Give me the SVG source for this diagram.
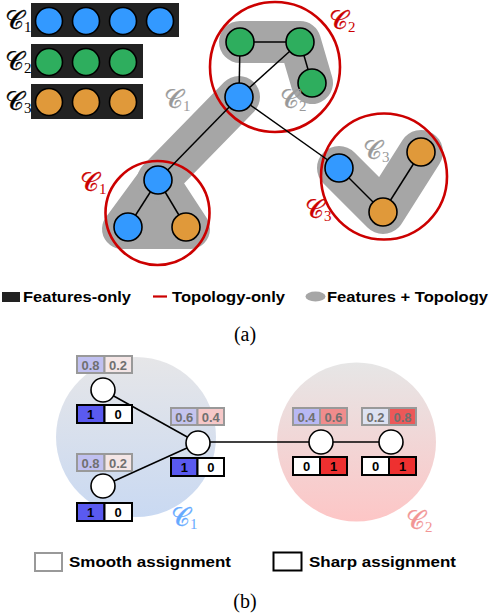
<svg xmlns="http://www.w3.org/2000/svg" width="490" height="614" viewBox="0 0 490 614">
<defs>
<linearGradient id="gBlue" x1="0" y1="0" x2="0" y2="1"><stop offset="0" stop-color="#e6e6e8"/><stop offset="1" stop-color="#c9d9f2"/></linearGradient>
<linearGradient id="gRed" x1="0" y1="0" x2="0" y2="1"><stop offset="0" stop-color="#e6e6e6"/><stop offset="1" stop-color="#fdc6c6"/></linearGradient>
<style>
.fb{fill:#222}
.nb{fill:#3399ff;stroke:#000;stroke-width:1.6}
.ng{fill:#2eae5e;stroke:#000;stroke-width:1.6}
.no{fill:#e0993a;stroke:#000;stroke-width:1.6}
.hull{fill:none;stroke:#a6a6a6;stroke-linecap:round;stroke-linejoin:round}
.rc{fill:none;stroke:#cc0000;stroke-width:2.6}
.e{stroke:#000;stroke-width:1.5;fill:none}
.cal{font-family:"DejaVu Serif","Liberation Serif",serif;font-size:26px;stroke-width:0.3}
.sub{font-family:"Liberation Serif",serif;font-size:15px;font-style:normal;stroke-width:0}
.lg{font-family:"Liberation Sans",Arial,sans-serif;font-weight:bold;font-size:15.5px;fill:#000}
.cap{font-family:"Liberation Serif","Times New Roman",serif;font-size:20px;fill:#000}
.wn{fill:#fff;stroke:#000;stroke-width:1.6}
.sm{stroke:#999;stroke-width:2}
.sh{stroke:#000;stroke-width:2}
.st{font-family:"Liberation Sans",Arial,sans-serif;font-weight:bold;font-size:13px;fill:#707070;text-anchor:middle}
.ht{font-family:"Liberation Sans",Arial,sans-serif;font-weight:bold;font-size:13px;fill:#000;text-anchor:middle}
</style>
</defs>
<rect width="490" height="614" fill="#fff"/>

<!-- (a) feature rows -->
<g id="feat-c1">
<rect class="fb" x="31" y="3" width="148" height="34"/>
<circle class="nb" cx="49" cy="21" r="13.5"/><circle class="nb" cx="86" cy="21" r="13.5"/><circle class="nb" cx="123" cy="21" r="13.5"/><circle class="nb" cx="160" cy="21" r="13.5"/>
<text class="cal" x="5" y="29" fill="#000" stroke="#000">𝒞<tspan class="sub" dy="3">1</tspan></text>
</g>
<g id="feat-c2">
<rect class="fb" x="31" y="44" width="112" height="34"/>
<circle class="ng" cx="49" cy="62" r="13.5"/><circle class="ng" cx="86" cy="62" r="13.5"/><circle class="ng" cx="123" cy="62" r="13.5"/>
<text class="cal" x="5" y="70" fill="#000" stroke="#000">𝒞<tspan class="sub" dy="3">2</tspan></text>
</g>
<g id="feat-c3">
<rect class="fb" x="31" y="84" width="112" height="35"/>
<circle class="no" cx="49" cy="102" r="13.5"/><circle class="no" cx="86" cy="102" r="13.5"/><circle class="no" cx="123" cy="102" r="13.5"/>
<text class="cal" x="5" y="110" fill="#000" stroke="#000">𝒞<tspan class="sub" dy="3">3</tspan></text>
</g>

<!-- hulls -->
<g id="hulls">
<polyline class="hull" stroke-width="42" points="240,42 300,42 312,83"/>
<polygon fill="#a6a6a6" stroke="#a6a6a6" stroke-width="40" stroke-linejoin="round" points="158,180 122,229 190,229"/>
<polyline class="hull" stroke-width="42" points="239,97 158,180"/>
<polyline class="hull" stroke-width="44" points="339,168 383,212 421,152"/>
</g>

<!-- red topology circles -->
<g id="topo">
<circle class="rc" cx="275" cy="67" r="65"/>
<circle class="rc" cx="157.5" cy="213" r="52"/>
<circle class="rc" cx="384" cy="176.5" r="63"/>
</g>

<!-- edges (a) -->
<g id="edges-a">
<line class="e" x1="240" y1="42" x2="300" y2="42"/>
<line class="e" x1="240" y1="42" x2="239" y2="97"/>
<line class="e" x1="239" y1="97" x2="300" y2="42"/>
<line class="e" x1="300" y1="42" x2="312" y2="83"/>
<line class="e" x1="239" y1="97" x2="158" y2="180"/>
<line class="e" x1="239" y1="97" x2="339" y2="168"/>
<line class="e" x1="158" y1="180" x2="128" y2="227"/>
<line class="e" x1="158" y1="180" x2="186" y2="227"/>
<line class="e" x1="339" y1="168" x2="383" y2="212"/>
<line class="e" x1="383" y1="212" x2="421" y2="152"/>
</g>

<!-- nodes (a) -->
<g id="a-g1"><circle class="ng" cx="240" cy="42" r="14"/></g>
<g id="a-g2"><circle class="ng" cx="300" cy="42" r="14"/></g>
<g id="a-g3"><circle class="ng" cx="312" cy="83" r="14"/></g>
<g id="a-b1"><circle class="nb" cx="239" cy="97" r="14"/></g>
<g id="a-b2"><circle class="nb" cx="158" cy="180" r="14"/></g>
<g id="a-b3"><circle class="nb" cx="128" cy="227" r="14"/></g>
<g id="a-o1"><circle class="no" cx="186" cy="227" r="14"/></g>
<g id="a-b4"><circle class="nb" cx="339" cy="168" r="14"/></g>
<g id="a-o2"><circle class="no" cx="383" cy="212" r="14"/></g>
<g id="a-o3"><circle class="no" cx="421" cy="152" r="14"/></g>

<!-- labels (a) -->
<g id="labels-a">
<text class="cal" x="329" y="29" fill="#cc0000" stroke="#cc0000">𝒞<tspan class="sub" dy="3">2</tspan></text>
<text class="cal" x="280" y="108" fill="#999" stroke="#999">𝒞<tspan class="sub" dy="3">2</tspan></text>
<text class="cal" x="164" y="108" fill="#999" stroke="#999">𝒞<tspan class="sub" dy="3">1</tspan></text>
<text class="cal" x="80" y="191" fill="#cc0000" stroke="#cc0000">𝒞<tspan class="sub" dy="3">1</tspan></text>
<text class="cal" x="363" y="159" fill="#999" stroke="#999">𝒞<tspan class="sub" dy="3">3</tspan></text>
<text class="cal" x="305" y="218" fill="#cc0000" stroke="#cc0000">𝒞<tspan class="sub" dy="3">3</tspan></text>
</g>

<!-- legend (a) -->
<g id="legend-a">
<rect x="2" y="292" width="18" height="10" fill="#222"/>
<text class="lg" x="23" y="302" textLength="108" lengthAdjust="spacingAndGlyphs">Features-only</text>
<line x1="153" y1="296.5" x2="167" y2="296.5" stroke="#cc0000" stroke-width="2.2"/>
<text class="lg" x="172" y="302" textLength="113" lengthAdjust="spacingAndGlyphs">Topology-only</text>
<ellipse cx="315.5" cy="296.5" rx="10" ry="5" fill="#a6a6a6"/>
<text class="lg" x="327" y="302" textLength="161" lengthAdjust="spacingAndGlyphs">Features + Topology</text>
<text class="cap" x="245" y="341" text-anchor="middle">(a)</text>
</g>

<!-- (b) cluster backgrounds -->
<g id="b-clusters">
<circle cx="136" cy="437" r="80" fill="url(#gBlue)"/>
<circle cx="356.5" cy="442" r="79.5" fill="url(#gRed)"/>
<text class="cal" x="171" y="526" fill="#66aaff" stroke="#66aaff">𝒞<tspan class="sub" dy="3">1</tspan></text>
<text class="cal" x="406" y="529" fill="#f29595" stroke="#f29595">𝒞<tspan class="sub" dy="3">2</tspan></text>
</g>

<!-- edges (b) -->
<g id="edges-b">
<line class="e" x1="103" y1="390" x2="198" y2="443"/>
<line class="e" x1="103" y1="486" x2="198" y2="443"/>
<line class="e" x1="198" y1="442" x2="391" y2="442"/>
</g>

<!-- nodes (b) -->
<g id="b-n1">
<rect class="sm" x="77" y="356" width="27.5" height="17" fill="#c0c0f0"/><rect class="sm" x="104.5" y="356" width="27.5" height="17" fill="#f4e6e6"/>
<text class="st" x="90.5" y="369.5">0.8</text><text class="st" x="118" y="369.5">0.2</text>
<circle class="wn" cx="103" cy="390" r="12"/>
<rect class="sh" x="77" y="405" width="27.5" height="18" fill="#5a5af0"/><rect class="sh" x="104.5" y="405" width="27.5" height="18" fill="#fff"/>
<text class="ht" x="90.5" y="419">1</text><text class="ht" x="118" y="419">0</text>
</g>
<g id="b-n2">
<rect class="sm" x="77" y="454" width="27.5" height="17" fill="#c0c0f0"/><rect class="sm" x="104.5" y="454" width="27.5" height="17" fill="#f4e6e6"/>
<text class="st" x="90.5" y="467.5">0.8</text><text class="st" x="118" y="467.5">0.2</text>
<circle class="wn" cx="103" cy="486" r="12"/>
<rect class="sh" x="77" y="503" width="27.5" height="18" fill="#5a5af0"/><rect class="sh" x="104.5" y="503" width="27.5" height="18" fill="#fff"/>
<text class="ht" x="90.5" y="517">1</text><text class="ht" x="118" y="517">0</text>
</g>
<g id="b-n3">
<rect class="sm" x="171" y="408" width="26.5" height="17" fill="#c4c4ee"/><rect class="sm" x="197.5" y="408" width="26.5" height="17" fill="#f6c8c8"/>
<text class="st" x="184.3" y="421.5">0.6</text><text class="st" x="210.8" y="421.5">0.4</text>
<circle class="wn" cx="198" cy="443" r="12"/>
<rect class="sh" x="171" y="458" width="26.5" height="18" fill="#5a5af0"/><rect class="sh" x="197.5" y="458" width="26.5" height="18" fill="#fff"/>
<text class="ht" x="184.3" y="472">1</text><text class="ht" x="210.8" y="472">0</text>
</g>
<g id="b-n4">
<rect class="sm" x="293" y="408" width="27" height="17" fill="#b8b8f4"/><rect class="sm" x="320" y="408" width="27" height="17" fill="#f08c8c"/>
<text class="st" x="306.5" y="421.5">0.4</text><text class="st" x="333.5" y="421.5">0.6</text>
<circle class="wn" cx="321" cy="442" r="12"/>
<rect class="sh" x="293" y="457" width="27" height="18" fill="#fff"/><rect class="sh" x="320" y="457" width="27" height="18" fill="#ee3030"/>
<text class="ht" x="306.5" y="471">0</text><text class="ht" x="333.5" y="471">1</text>
</g>
<g id="b-n5">
<rect class="sm" x="362" y="408" width="27" height="17" fill="#dde2f2"/><rect class="sm" x="389" y="408" width="27" height="17" fill="#ec5858"/>
<text class="st" x="375.5" y="421.5">0.2</text><text class="st" x="402.5" y="421.5">0.8</text>
<circle class="wn" cx="391" cy="442" r="12"/>
<rect class="sh" x="362" y="457" width="27" height="18" fill="#fff"/><rect class="sh" x="389" y="457" width="27" height="18" fill="#ee3030"/>
<text class="ht" x="375.5" y="471">0</text><text class="ht" x="402.5" y="471">1</text>
</g>

<!-- legend (b) -->
<g id="legend-b">
<rect x="35" y="553" width="27" height="18" fill="#fff" stroke="#999" stroke-width="2"/>
<text class="lg" x="69" y="567" textLength="162" lengthAdjust="spacingAndGlyphs">Smooth assignment</text>
<rect x="273.5" y="552.5" width="28" height="18" fill="#fff" stroke="#000" stroke-width="2"/>
<text class="lg" x="309" y="567" textLength="147" lengthAdjust="spacingAndGlyphs">Sharp assignment</text>
<text class="cap" x="245" y="608" text-anchor="middle">(b)</text>
</g>
</svg>
